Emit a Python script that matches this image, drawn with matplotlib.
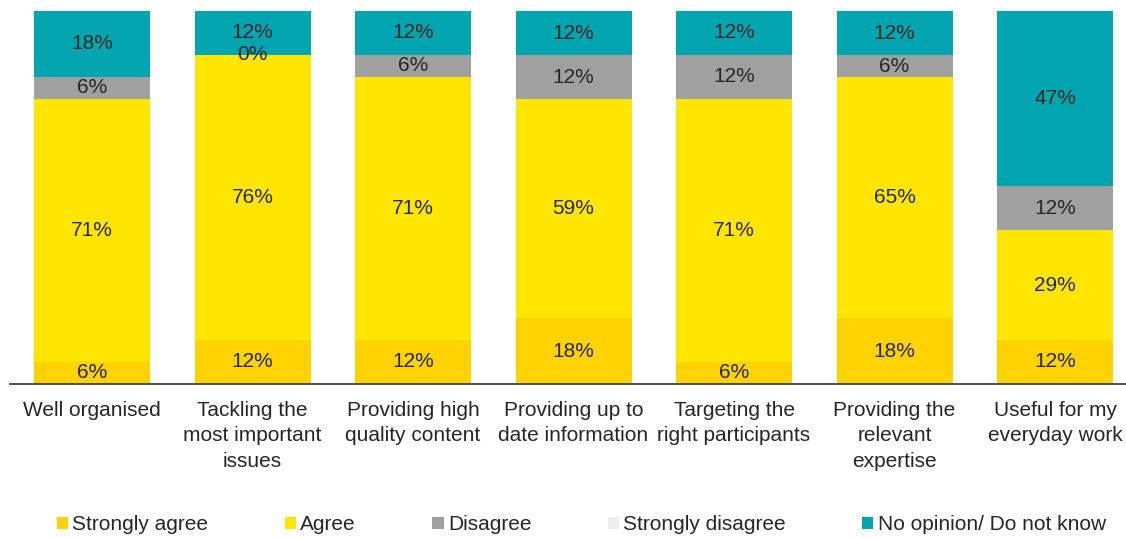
import matplotlib
matplotlib.use("Agg")
import matplotlib.pyplot as plt
from matplotlib.patches import Patch
import numpy as np

categories = [
    "Well organised",
    "Tackling the\nmost important\nissues",
    "Providing high\nquality content",
    "Providing up to\ndate information",
    "Targeting the\nright participants",
    "Providing the\nrelevant\nexpertise",
    "Useful for my\neveryday work",
]
strongly_agree = [5.9, 11.8, 11.8, 17.6, 5.9, 17.6, 11.8]
agree = [70.6, 76.5, 70.6, 58.8, 70.6, 64.7, 29.4]
disagree = [5.9, 0.0, 5.9, 11.8, 11.8, 5.9, 11.8]
strongly_disagree = [0.0, 0.0, 0.0, 0.0, 0.0, 0.0, 0.0]
no_opinion = [17.6, 11.8, 11.8, 11.8, 11.8, 11.8, 47.1]

series_names = ["Strongly agree", "Agree", "Disagree", "Strongly disagree",
                "No opinion/ Do not know"]
series = [strongly_agree, agree, disagree, strongly_disagree, no_opinion]
colors = ["#FFD200", "#FFE600", "#A0A0A0", "#EEEEEE", "#00A5AF"]
show_labels = [True, True, True, False, True]

plt.rcParams['font.family'] = ['Liberation Sans', 'DejaVu Sans']
txt_color = "#262626"

fig = plt.figure(figsize=(11.26, 5.38), dpi=100)
ax = fig.add_axes([10/1126, (538-384)/538, 1 - 10/1126, 373/538])

x = np.arange(len(categories))
bottom = np.zeros(len(categories))
handles = []
for name, vals, col, show in zip(series_names, series, colors, show_labels):
    vals = np.array(vals)
    bars = ax.bar(x, vals, width=0.723, bottom=bottom, color=col, linewidth=0)
    if show:
        ax.bar_label(bars, labels=[f"{v:.0f}%" for v in vals], label_type='center',
                     fontsize=15, color=txt_color)
    bottom += vals
    handles.append(Patch(facecolor=col, edgecolor='none', label=name))

ax.set_xlim(-0.511, 6.442)
ax.set_ylim(0, 100)
ax.set_xticks(x)
ax.set_xticklabels(categories, fontsize=15, color=txt_color, linespacing=1.45)
ax.tick_params(axis='x', length=0, pad=12)
ax.set_yticks([])
for s in ['top', 'right', 'left']:
    ax.spines[s].set_visible(False)
ax.spines['bottom'].set_color('#404040')
ax.spines['bottom'].set_linewidth(1.3)

fig.legend(handles=handles, loc='center left', bbox_to_anchor=(38/1126, 1 - 525/538),
           ncol=5, frameon=False, fontsize=15, handlelength=0.55, handleheight=0.55,
           handletextpad=0.2, columnspacing=3.66, labelcolor=txt_color)

fig.savefig("out.png", dpi=100)
